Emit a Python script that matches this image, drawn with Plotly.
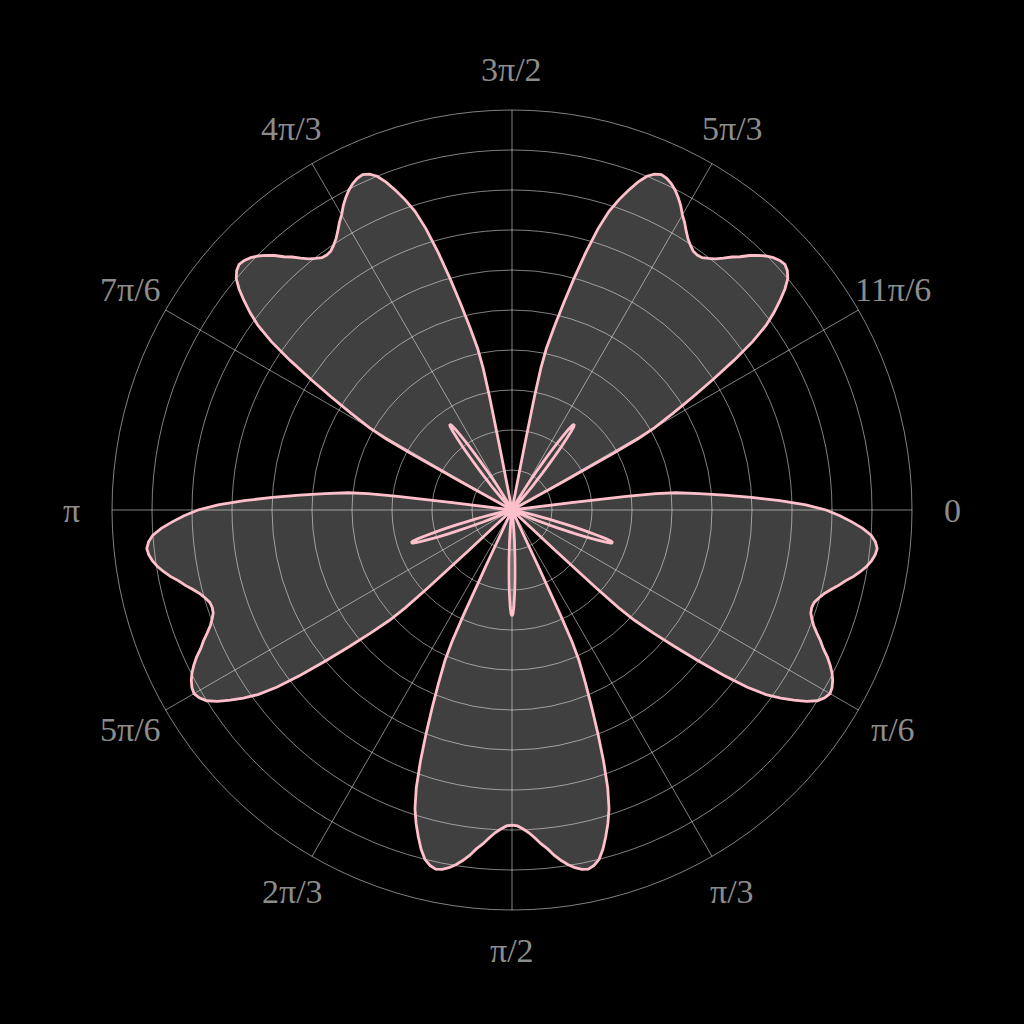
import math
import plotly.graph_objects as go

# Angular tick positions (degrees, clockwise from the right) and labels
tick_degrees = [0, 30, 60, 90, 120, 150, 180, 210, 240, 270, 300, 330]
tick_labels = ["0", "π/6", "π/3", "π/2", "2π/3", "5π/6", "π",
               "7π/6", "4π/3", "3π/2", "5π/3", "11π/6"]

# Directions of the five large petals (degrees)
petal_centers = [18, 90, 162, 234, 306]

# Large-petal outline: angular offset from the petal centre (deg) and radius
petal_offsets = [-25.2, -25.0, -24.8, -24.5, -24, -23, -22, -21, -20, -19, -18,
                 -17, -16, -15, -14, -13, -12, -11, -10, -9, -8, -7, -6, -5,
                 -4, -3, -2, -1, 0, 1, 2, 3, 4, 5, 6, 7, 8, 9, 10, 11, 12, 13,
                 14, 15, 16, 17, 18, 19, 20, 21, 22, 23, 24, 24.5, 24.8, 25.0,
                 25.2]
petal_r = [0.0, 1.50, 2.88, 3.62, 4.12, 4.70, 5.32, 6.00, 6.70, 7.35, 7.85,
           8.20, 8.50, 8.78, 9.00, 9.12, 9.18, 9.15, 9.08, 8.98, 8.85, 8.70,
           8.52, 8.38, 8.22, 8.08, 7.98, 7.90, 7.88, 7.90, 7.98, 8.08, 8.22,
           8.38, 8.52, 8.70, 8.85, 8.98, 9.08, 9.15, 9.18, 9.12, 9.00, 8.78,
           8.50, 8.20, 7.85, 7.35, 6.70, 6.00, 5.32, 4.70, 4.12, 3.62, 2.88,
           1.50, 0.0]

# Small inner loop outline: angular offset from loop centre (deg) and radius
loop_offsets = [-6.5, -6, -5.5, -5, -4.5, -4, -3.5, -3, -2.5, -2, -1.5, -1,
                -0.5, 0, 0.5, 1, 1.5, 2, 2.5, 3, 3.5, 4, 4.5, 5, 5.5, 6, 6.5]
loop_r = [0.0, 0.20, 0.40, 0.60, 0.78, 0.95, 1.18, 1.42, 1.70, 1.98, 2.22,
          2.45, 2.60, 2.65, 2.60, 2.45, 2.22, 1.98, 1.70, 1.42, 1.18, 0.95,
          0.78, 0.60, 0.40, 0.20, 0.0]
# Direction of the small loop drawn after each large petal
loop_centers = [234, 306, 18, 90, 162]

theta = []
r = []
for pc, lc in zip(petal_centers, loop_centers):
    for off, rv in zip(petal_offsets, petal_r):
        theta.append((pc + off) % 360)
        r.append(rv)
    for off, rv in zip(loop_offsets, loop_r):
        theta.append((lc + off) % 360)
        r.append(rv)
theta.append(theta[0])
r.append(r[0])

grid = "rgba(255,255,255,0.5)"
label_color = "#8c8c8c"

fig = go.Figure()
fig.add_trace(go.Scatterpolar(
    r=r, theta=theta, mode="lines",
    line=dict(color="pink", width=2.8),
    fill="toself", fillcolor="rgba(255,255,255,0.25)",
    hoverinfo="skip", showlegend=False,
))

# Angular tick labels, centred just outside the outer circle
label_radius = 0.55  # in plot-area fractions (outer circle = 0.5)
annotations = []
for deg, txt in zip(tick_degrees, tick_labels):
    a = math.radians(deg)
    annotations.append(dict(
        x=0.5 + label_radius * math.cos(a),
        y=0.5 - label_radius * math.sin(a),
        xref="paper", yref="paper", text=txt, showarrow=False,
        xanchor="center", yanchor="middle",
        font=dict(family="Liberation Serif", size=34, color=label_color),
    ))

fig.update_layout(
    width=1024, height=1024,
    paper_bgcolor="black", plot_bgcolor="black",
    margin=dict(l=112, r=112, t=110, b=114),
    showlegend=False,
    annotations=annotations,
    polar=dict(
        bgcolor="black",
        domain=dict(x=[0, 1], y=[0, 1]),
        radialaxis=dict(
            range=[0, 10], tick0=0, dtick=1,
            showticklabels=False, ticks="", showline=False,
            gridcolor=grid, gridwidth=1,
        ),
        angularaxis=dict(
            direction="clockwise", rotation=0,
            tickmode="array", tickvals=tick_degrees, ticktext=tick_labels,
            showticklabels=False, ticks="",
            gridcolor=grid, gridwidth=1,
            showline=True, linecolor=grid, linewidth=1,
        ),
    ),
)

fig.write_html(
    "out.html",
    config={"displayModeBar": False, "staticPlot": True},
    post_script=("document.body.style.margin='0';"
                 "document.body.style.backgroundColor='black';"
                 "document.body.style.overflow='hidden';"),
)
